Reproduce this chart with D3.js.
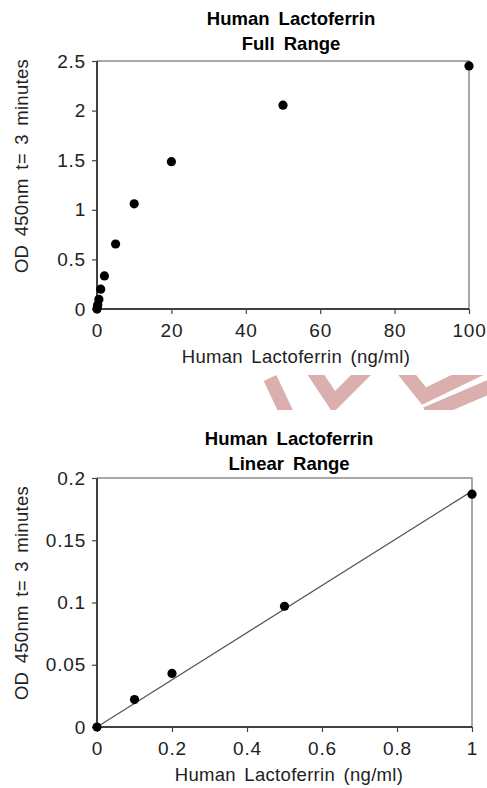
<!DOCTYPE html>
<html>
<head>
<meta charset="utf-8">
<script src="https://cdn.jsdelivr.net/npm/d3@7"></script>
<style>
  body { margin: 0; background: #fff; }
  svg { display: block; font-family: "Liberation Sans", Arial, sans-serif; }
  .title { font-weight: bold; font-size: 18.5px; fill: #000; word-spacing: 4px; }
  .tick text { font-size: 19px; fill: #222; letter-spacing: 0.8px; }
  .axis-title { font-size: 18.5px; fill: #222; word-spacing: 3px; letter-spacing: 0.3px; }
</style>
</head>
<body>
<svg id="chart" width="487" height="788"></svg>
<script>
// full range standard curve
var fullConc = [0, 0.1, 0.2, 0.5, 1, 2, 5, 10, 20, 50, 100];
var fullOD = [0, 0.022, 0.043, 0.097, 0.2, 0.333, 0.655, 1.06, 1.485, 2.055, 2.45];
var fullXTicks = [0, 20, 40, 60, 80, 100];
var fullYTicks = [0, 0.5, 1, 1.5, 2, 2.5];

// linear range
var linConc = [0, 0.1, 0.2, 0.5, 1];
var linOD = [0, 0.022, 0.043, 0.097, 0.187];
var linXTicks = [0, 0.2, 0.4, 0.6, 0.8, 1];
var linYTicks = [0, 0.05, 0.1, 0.15, 0.2];

var svg = d3.select('#chart');

// watermark, mostly hidden behind the two charts
var wm = svg.append('g').attr('class', 'watermark');
svg.append('clipPath').attr('id', 'wmclip').append('rect')
    .attr('x', 250).attr('y', 375).attr('width', 237).attr('height', 35);
wm.attr('clip-path', 'url(#wmclip)');
var wmStrokes = [
    [[270, 378], [288, 416]],
    [[310, 366], [334, 402], [370, 366]],
    [[400, 366], [424, 396], [486, 366]],
    [[426, 414], [496, 384]]
];
wm.selectAll('path').data(wmStrokes).enter().append('path')
    .attr('d', d3.line())
    .attr('fill', 'none')
    .attr('stroke', '#dcafaf')
    .attr('stroke-width', 14)
    .attr('stroke-linejoin', 'miter');

function drawChart(opt) {
    var g = svg.append('g');
    var x = d3.scaleLinear().domain(opt.xDomain).range([opt.left, opt.right]);
    var y = d3.scaleLinear().domain(opt.yDomain).range([opt.bottom, opt.top]);

    // title
    g.append('text').attr('class', 'title').attr('x', opt.titleX).attr('y', opt.titleY)
        .attr('text-anchor', 'middle').text(opt.title[0]);
    g.append('text').attr('class', 'title').attr('x', opt.titleX).attr('y', opt.titleY + 25)
        .attr('text-anchor', 'middle').text(opt.title[1]);

    // gray frame on top and right
    g.append('path')
        .attr('d', 'M' + opt.left + ',' + opt.top + 'H' + opt.right + 'V' + opt.bottom)
        .attr('fill', 'none').attr('stroke', '#8c8c8c').attr('stroke-width', 1.5);

    var yAxis = g.append('g').attr('transform', 'translate(' + opt.left + ',0)')
        .call(d3.axisLeft(y).tickValues(opt.yTicks).tickSize(5).tickPadding(6).tickFormat(d3.format('')));
    var xAxis = g.append('g').attr('transform', 'translate(0,' + opt.bottom + ')')
        .call(d3.axisBottom(x).tickValues(opt.xTicks).tickSize(5).tickPadding(10).tickFormat(d3.format('')));
    [xAxis, yAxis].forEach(function(a) {
        a.select('.domain').attr('stroke', '#000').attr('stroke-width', 1.5);
        a.selectAll('.tick line').attr('stroke', '#444').attr('stroke-width', 1.2);
        a.selectAll('.tick text').attr('font-family', null).attr('font-size', null);
    });
    xAxis.select('.domain').attr('d', 'M' + opt.left + ',0H' + opt.right);
    yAxis.select('.domain').attr('d', 'M0,' + opt.bottom + 'V' + opt.top);

    // trendline (least squares through the origin)
    if (opt.trend) {
        var sxy = d3.sum(opt.xs, function(v, i) { return v * opt.ys[i]; });
        var sxx = d3.sum(opt.xs, function(v) { return v * v; });
        var slope = sxy / sxx;
        var x1 = d3.max(opt.xs);
        g.append('line')
            .attr('x1', x(0)).attr('y1', y(0))
            .attr('x2', x(x1)).attr('y2', y(slope * x1))
            .attr('stroke', '#555').attr('stroke-width', 1.2);
    }

    g.selectAll('circle.pt').data(opt.xs).enter().append('circle')
        .attr('class', 'pt')
        .attr('cx', function(d) { return x(d); })
        .attr('cy', function(d, i) { return y(opt.ys[i]); })
        .attr('r', 4.6).attr('fill', '#000');

    g.append('text').attr('class', 'axis-title')
        .attr('x', opt.xTitleX).attr('y', opt.xTitleY).attr('text-anchor', 'middle')
        .text('Human Lactoferrin (ng/ml)');
    g.append('text').attr('class', 'axis-title')
        .attr('transform', 'translate(' + 28 + ',' + opt.yTitleY + ') rotate(-90)')
        .attr('text-anchor', 'middle')
        .text('OD 450nm t= 3 minutes');
}

drawChart({
    title: ['Human Lactoferrin', 'Full Range'], titleX: 291, titleY: 25,
    xDomain: [0, 100], yDomain: [0, 2.5],
    left: 97, right: 469, top: 61, bottom: 309,
    xTicks: fullXTicks, yTicks: fullYTicks,
    xs: fullConc, ys: fullOD, trend: false,
    xTitleX: 296, xTitleY: 363, yTitleY: 166
});

drawChart({
    title: ['Human Lactoferrin', 'Linear Range'], titleX: 289, titleY: 445,
    xDomain: [0, 1], yDomain: [0, 0.2],
    left: 97, right: 472, top: 478, bottom: 727,
    xTicks: linXTicks, yTicks: linYTicks,
    xs: linConc, ys: linOD, trend: true,
    xTitleX: 289, xTitleY: 781, yTitleY: 593
});
</script>
</body>
</html>
